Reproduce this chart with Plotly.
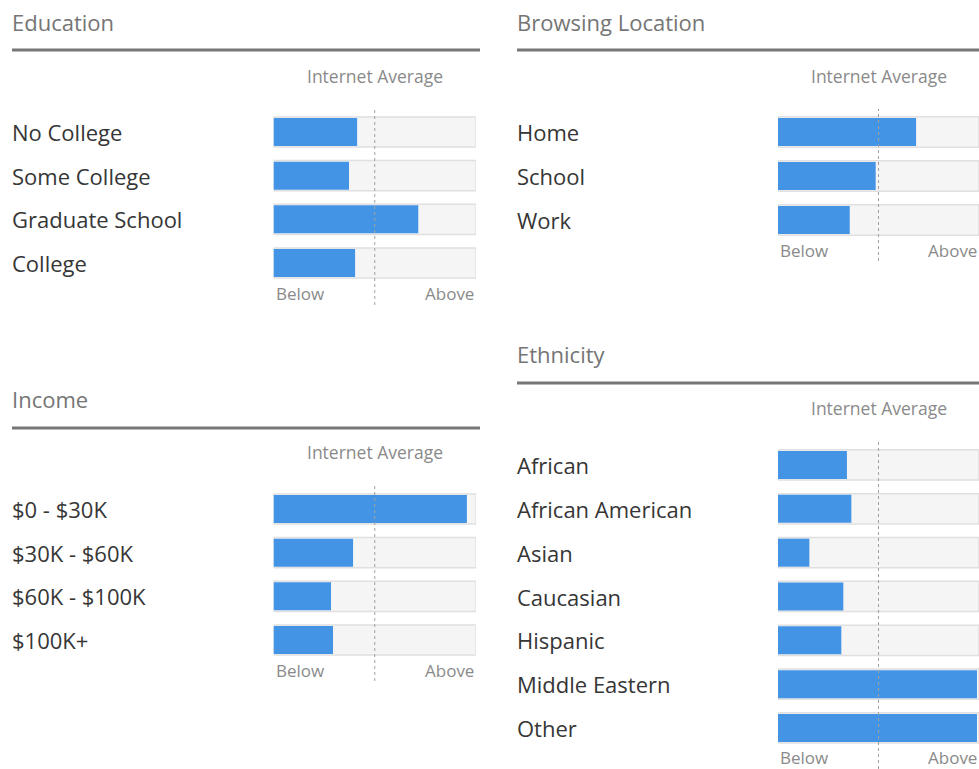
import plotly.graph_objects as go

# Datos (fracción del ancho de la pista; 0.5 = promedio de Internet)
edu_cats = ["No College", "Some College", "Graduate School", "College"]
edu_vals = [0.413, 0.373, 0.715, 0.403]

loc_cats = ["Home", "School", "Work"]
loc_vals = [0.687, 0.486, 0.357]

inc_cats = ["$0 - $30K", "$30K - $60K", "$60K - $100K", "$100K+"]
inc_vals = [0.955, 0.393, 0.284, 0.294]

eth_cats = ["African", "African American", "Asian", "Caucasian", "Hispanic",
            "Middle Eastern", "Other"]
eth_vals = [0.343, 0.365, 0.156, 0.325, 0.315, 0.99, 0.99]

AVERAGE = 0.5
TRACK_MAX = 1.0

W, H = 979, 769
FONT = "Open Sans"
BLUE = "#4494e6"
TRACK_FILL = "#f5f5f5"
TRACK_LINE = "#e0e0e0"
TITLE_C = "#757575"
LABEL_C = "#363636"
MUTED = "#8a8a8a"
RULE_C = "#777777"

# Geometría en píxeles de cada panel
PANELS = [
    dict(title="Education", cats=edu_cats, vals=edu_vals, x0=12, x_rule=480,
         tx0=273.5, tx1=476, y_title=22, y_rule=50, y_ia=76,
         y_first=132, y_last=263, y_below=294, y_dot=(109, 305)),
    dict(title="Browsing Location", cats=loc_cats, vals=loc_vals, x0=517, x_rule=979,
         tx0=778, tx1=979, y_title=22, y_rule=50, y_ia=76,
         y_first=132, y_last=220, y_below=250, y_dot=(109, 261)),
    dict(title="Income", cats=inc_cats, vals=inc_vals, x0=12, x_rule=480,
         tx0=273.5, tx1=476, y_title=399, y_rule=428, y_ia=452,
         y_first=509, y_last=640, y_below=670, y_dot=(486, 681)),
    dict(title="Ethnicity", cats=eth_cats, vals=eth_vals, x0=517, x_rule=979,
         tx0=778, tx1=979, y_title=354, y_rule=383, y_ia=408,
         y_first=465, y_last=728, y_below=757, y_dot=(441, 769)),
]


def px(x):
    return x / W


def py(y):
    return 1 - y / H


fig = go.Figure()
annotations = []
shapes = []
layout_axes = {}

for i, p in enumerate(PANELS, start=1):
    sfx = "" if i == 1 else str(i)
    n = len(p["cats"])
    step = (p["y_last"] - p["y_first"]) / (n - 1)
    top = p["y_first"] - step / 2
    bottom = p["y_last"] + step / 2

    layout_axes[f"xaxis{sfx}"] = dict(
        domain=[px(p["tx0"]), px(p["tx1"])], range=[0, TRACK_MAX],
        visible=False, fixedrange=True, anchor=f"y{sfx}")
    layout_axes[f"yaxis{sfx}"] = dict(
        domain=[py(bottom), py(top)], type="category",
        range=[n - 0.5, -0.5], visible=False, fixedrange=True, anchor=f"x{sfx}")

    # pista gris completa
    fig.add_trace(go.Bar(
        y=p["cats"], x=[TRACK_MAX] * n, orientation="h", width=0.69,
        marker=dict(color=TRACK_FILL, line=dict(color=TRACK_LINE, width=1.5)),
        xaxis=f"x{i}", yaxis=f"y{i}", hoverinfo="skip"))
    # barra de valor
    fig.add_trace(go.Bar(
        y=p["cats"], x=p["vals"], orientation="h", width=0.64,
        marker=dict(color=BLUE, line=dict(width=0)),
        xaxis=f"x{i}", yaxis=f"y{i}",
        hovertemplate="%{y}: %{x:.2f}<extra></extra>"))

    # etiquetas de categoría
    for c in p["cats"]:
        annotations.append(dict(
            x=px(p["x0"] - 2), xref="paper", y=c, yref=f"y{i}", text=c,
            xanchor="left", yanchor="middle", showarrow=False,
            font=dict(family=FONT, size=22, color=LABEL_C)))

    # título y regla
    annotations.append(dict(
        x=px(p["x0"] - 2), y=py(p["y_title"]), xref="paper", yref="paper",
        text=p["title"], xanchor="left", yanchor="middle", showarrow=False,
        font=dict(family=FONT, size=22, color=TITLE_C)))
    shapes.append(dict(
        type="line", xref="paper", yref="paper",
        x0=px(p["x0"]), x1=px(p["x_rule"]), y0=py(p["y_rule"]), y1=py(p["y_rule"]),
        line=dict(color=RULE_C, width=3)))

    # promedio de Internet
    annotations.append(dict(
        x=AVERAGE, xref=f"x{i}", y=py(p["y_ia"]), yref="paper",
        text="Internet Average", xanchor="center", yanchor="middle",
        showarrow=False, font=dict(family=FONT, size=17.5, color=MUTED)))
    shapes.append(dict(
        type="line", xref=f"x{i}", yref="paper", x0=AVERAGE, x1=AVERAGE,
        y0=py(p["y_dot"][1]), y1=py(p["y_dot"][0]), layer="above",
        line=dict(color="#a0a0a0", width=1, dash="dot")))

    for txt, xv, anchor in (("Below", 0, "left"), ("Above", TRACK_MAX, "right")):
        annotations.append(dict(
            x=xv, xref=f"x{i}", y=py(p["y_below"]), yref="paper", text=txt,
            xanchor=anchor, yanchor="middle", showarrow=False,
            font=dict(family=FONT, size=17, color=MUTED)))

fig.update_layout(
    width=W, height=H,
    margin=dict(l=0, r=0, t=0, b=0),
    paper_bgcolor="white", plot_bgcolor="white",
    barmode="overlay", showlegend=False,
    annotations=annotations, shapes=shapes,
    **layout_axes,
)

# sin margen de página: la figura ocupa la ventana exacta
fig.write_html("out.html", config={"displayModeBar": False},
               post_script="document.body.style.margin='0';")
